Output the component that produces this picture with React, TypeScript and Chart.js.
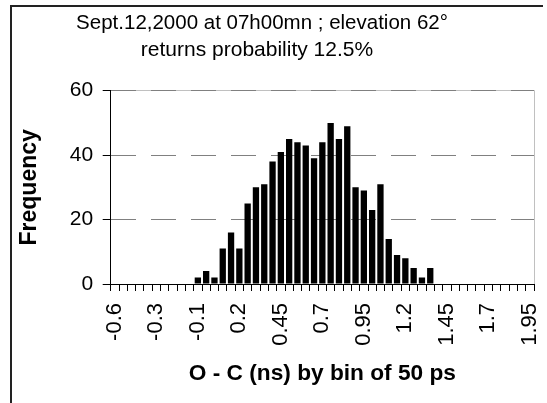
import React, { useEffect, useRef } from 'react';
import { Chart, registerables } from 'chart.js';

Chart.register(...registerables);

const FONT = '"Liberation Sans", Arial, Helvetica, sans-serif';

const titleLines = ['Sept.12,2000 at 07h00mn ; elevation 62°', 'returns probability 12.5%'];
const xTitle = 'O - C (ns) by bin of 50 ps';
const yTitle = 'Frequency';

// bin upper bounds (ns), bins of 50 ps
const bins = [
  '-0.55', '-0.5', '-0.45', '-0.4', '-0.35', '-0.3', '-0.25', '-0.2', '-0.15', '-0.1',
  '-0.05', '0', '0.05', '0.1', '0.15', '0.2', '0.25', '0.3', '0.35', '0.4',
  '0.45', '0.5', '0.55', '0.6', '0.65', '0.7', '0.75', '0.8', '0.85', '0.9',
  '0.95', '1', '1.05', '1.1', '1.15', '1.2', '1.25', '1.3', '1.35', '1.4',
  '1.45', '1.5', '1.55', '1.6', '1.65', '1.7', '1.75', '1.8', '1.85', '1.9',
  '1.95',
];

// labels shown on every 5th bin
const xTickLabels = ['-0.6', '-0.3', '-0.1', '0.2', '0.45', '0.7', '0.95', '1.2', '1.45', '1.7', '1.95'];

const frequency = [
  0, 0, 0, 0, 0, 0, 0, 0, 0, 0,
  2, 4, 2, 11, 16, 11, 25, 30, 31, 38,
  41, 45, 44, 43, 39, 44, 50, 45, 49, 30,
  29, 23, 31, 14, 9, 8, 5, 2, 5, 0,
  0, 0, 0, 0, 0, 0, 0, 0, 0, 0,
  0,
];

const yMin = 0;
const yMax = 60;
const yStep = 20;

export default function App() {
  const ref = useRef<HTMLCanvasElement | null>(null);

  useEffect(() => {
    if (!ref.current) return;

    const plotFrame = {
      id: 'plotFrame',
      beforeDraw(chart: any) {
        const { ctx, chartArea: a } = chart;
        ctx.save();
        ctx.strokeStyle = '#c0c0c0';
        ctx.lineWidth = 1;
        ctx.beginPath();
        ctx.moveTo(Math.floor(a.left), Math.floor(a.top) + 0.5);
        ctx.lineTo(Math.floor(a.right) + 0.5, Math.floor(a.top) + 0.5);
        ctx.lineTo(Math.floor(a.right) + 0.5, Math.floor(a.bottom));
        ctx.stroke();
        ctx.restore();
      },
    };

    const twoLineTitle = {
      id: 'twoLineTitle',
      afterDraw(chart: any) {
        const { ctx } = chart;
        ctx.save();
        ctx.fillStyle = '#000';
        ctx.font = `20.5px ${FONT}`;
        ctx.textAlign = 'center';
        ctx.textBaseline = 'alphabetic';
        ctx.fillText(titleLines[0], 262, 29);
        ctx.font = `21px ${FONT}`;
        ctx.fillText(titleLines[1], 257, 56);
        ctx.restore();
      },
    };

    const chart = new Chart(ref.current, {
      type: 'bar',
      data: {
        labels: bins,
        datasets: [
          {
            label: yTitle,
            data: frequency,
            backgroundColor: '#000',
            borderWidth: 0,
            barPercentage: 0.76,
            categoryPercentage: 1,
          },
        ],
      },
      options: {
        responsive: false,
        animation: false,
        devicePixelRatio: 1,
        layout: { padding: { top: 90.7, right: 13, bottom: 0, left: 0 } },
        plugins: {
          legend: { display: false },
          tooltip: { enabled: false },
          title: { display: false },
        },
        scales: {
          x: {
            offset: true,
            grid: {
              display: true,
              offset: true,
              drawOnChartArea: false,
              drawTicks: true,
              tickLength: 7,
              color: '#000',
            },
            border: { display: true, color: '#000', width: 1 },
            ticks: {
              autoSkip: false,
              minRotation: 90,
              maxRotation: 90,
              padding: 12,
              color: '#000',
              font: { family: FONT, size: 22 },
              callback: (_v: any, i: number) => (i % 5 === 0 ? xTickLabels[i / 5] : ''),
            },
            title: {
              display: true,
              text: xTitle,
              color: '#000',
              font: { family: FONT, size: 22.7, weight: 'bold' },
              padding: { top: 0, bottom: 16 },
            },
            afterFit: (s: any) => {
              s.height = 119;
              s.paddingLeft = 0;
              s.paddingRight = 0;
            },
          },
          y: {
            min: yMin,
            max: yMax,
            ticks: {
              stepSize: yStep,
              padding: 9.5,
              color: '#000',
              font: { family: FONT, size: 21 },
            },
            grid: {
              color: '#808080',
              lineWidth: 1,
              drawTicks: true,
              tickLength: 8,
              tickColor: '#000',
              tickBorderDash: [],
            },
            border: { display: true, color: '#000', width: 1, dash: [25, 15] },
            title: {
              display: true,
              text: yTitle,
              color: '#000',
              font: { family: FONT, size: 23, weight: 'bold' },
              padding: { top: 16, bottom: 0 },
            },
            afterFit: (s: any) => {
              s.width = 110.7;
              s.paddingTop = 0;
              s.paddingBottom = 0;
            },
          },
        },
      } as any,
      plugins: [plotFrame, twoLineTitle],
    });

    return () => chart.destroy();
  }, []);

  return (
    <div style={{ position: 'absolute', left: 0, top: 0, width: 547, height: 403, background: '#fff', overflow: 'hidden' }}>
      <canvas ref={ref} width={547} height={403} style={{ display: 'block', width: 547, height: 403 }} />
      <div
        style={{
          position: 'absolute',
          left: 10,
          top: 5,
          width: 533,
          height: 398,
          borderTop: '2px solid #222',
          borderLeft: '2px solid #222',
          boxSizing: 'border-box',
          pointerEvents: 'none',
        }}
      />
    </div>
  );
}
